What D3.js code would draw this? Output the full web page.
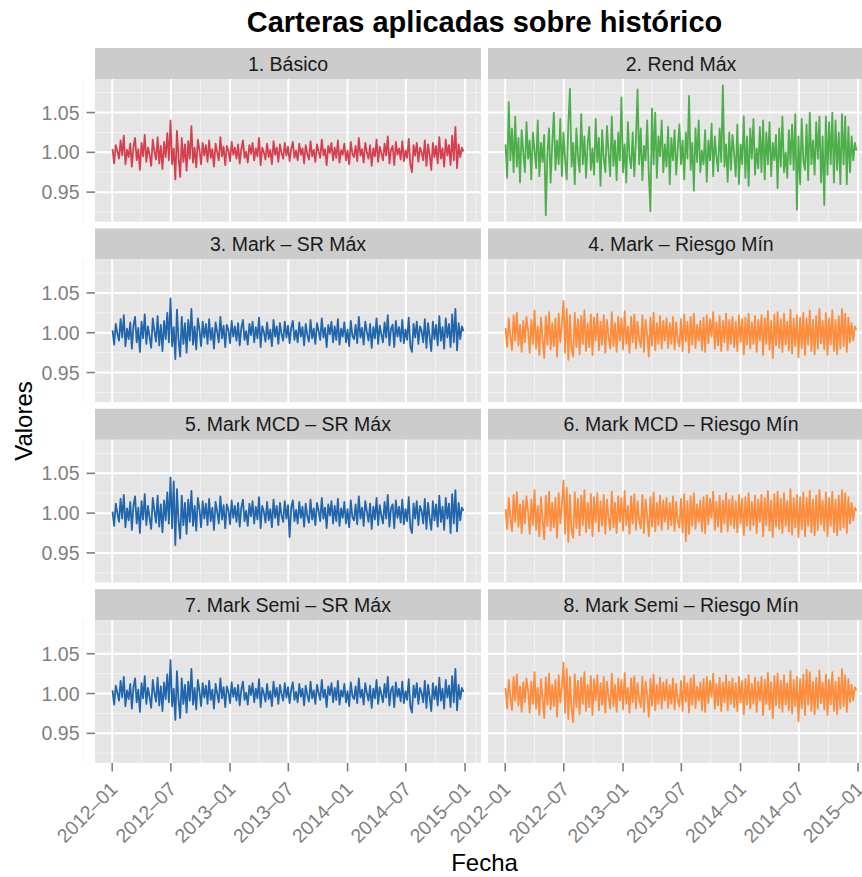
<!DOCTYPE html>
<html>
<head>
<meta charset="utf-8">
<script src="https://d3js.org/d3.v7.min.js"></script>
<style>
	body { margin: 0; background: #ffffff; }
	svg text { font-family: "Liberation Sans", Arial, Helvetica, sans-serif; }
</style>
</head>
<body>
<svg id="svg0" width="862" height="877"></svg>
<script>

// panel titles, in facet order (2 columns, 4 rows)
var panelNames = ["1. Básico", "2. Rend Máx", "3. Mark \u2013 SR Máx", "4. Mark \u2013 Riesgo Mín",
	"5. Mark MCD \u2013 SR Máx", "6. Mark MCD \u2013 Riesgo Mín",
	"7. Mark Semi \u2013 SR Máx", "8. Mark Semi \u2013 Riesgo Mín"];
var panelColors = ["#d6404e", "#4daf4a", "#2166ac", "#fd8d3c",
	"#2166ac", "#fd8d3c", "#2166ac", "#fd8d3c"];

// one observation every 5 days, 2012-01-02 to the end of 2014
var firstDate = new Date(2012, 0, 2);
var lastDate = new Date(2015, 0, 1);

var yTicks = [0.95, 1.00, 1.05];
var xTicks = [new Date(2012, 0, 1), new Date(2012, 6, 1), new Date(2013, 0, 1), new Date(2013, 6, 1),
	new Date(2014, 0, 1), new Date(2014, 6, 1), new Date(2015, 0, 1)];

// values, one row per month (6 points)
var basico = [
	1.004, 0.986, 1.009, 1.002, 0.992, 1.015,  0.996, 1.021, 0.985, 1.003, 0.994, 1.011,
	0.982, 1.007, 1.018, 0.990, 1.004, 0.978,  1.012, 0.995, 1.022, 0.988, 1.006, 0.997,
	0.983, 1.016, 1.001, 0.991, 1.019, 0.986,  1.008, 0.979, 1.013, 0.994, 1.024, 0.990,
	1.040, 0.985, 1.005, 0.966, 1.027, 0.993,  0.969, 1.018, 0.988, 1.010, 0.977, 1.014,
	0.992, 1.033, 0.987, 1.006, 0.981, 1.016,  1.003, 0.985, 1.012, 0.996, 1.009, 0.988,
	1.015, 0.993, 1.004, 0.982, 1.011, 1.000,  0.990, 1.019, 0.995, 1.007, 0.984, 1.008,
	1.002, 0.989, 1.013, 0.997, 1.006, 0.992,  1.010, 0.986, 1.004, 1.015, 0.993, 1.001,
	0.987, 1.009, 0.998, 1.012, 0.990, 1.005,  0.995, 1.018, 0.984, 1.006, 1.000, 0.991,
	1.011, 0.994, 1.003, 0.985, 1.014, 0.997,  1.006, 0.988, 1.010, 0.999, 0.992, 1.012,
	0.996, 1.007, 0.989, 1.004, 1.013, 0.993,  1.002, 0.990, 1.011, 0.997, 1.005, 0.986,
	1.009, 0.998, 0.991, 1.014, 0.995, 1.003,  0.988, 1.010, 1.001, 0.993, 1.016, 0.996,
	1.004, 0.984, 1.008, 0.999, 1.012, 0.990,  1.006, 0.993, 1.015, 0.987, 1.003, 0.997,
	1.011, 0.990, 1.002, 0.985, 1.013, 0.998,  0.994, 1.008, 0.989, 1.018, 0.996, 1.004,
	0.987, 1.012, 1.000, 0.992, 1.009, 0.983,  1.005, 0.995, 1.016, 0.988, 1.007, 0.999,
	0.990, 1.011, 0.996, 1.020, 0.986, 1.003,  1.008, 0.984, 1.013, 0.997, 1.005, 0.991,
	1.014, 0.989, 1.002, 0.993, 1.017, 0.985,  0.975, 1.009, 0.996, 1.012, 0.988, 1.006,
	1.000, 0.990, 1.015, 0.983, 1.010, 0.997,  0.978, 1.012, 0.994, 1.008, 0.986, 1.019,
	0.992, 1.005, 0.982, 1.016, 0.996, 1.009,  0.984, 1.021, 0.990, 1.032, 0.980, 1.010,
	0.994, 1.006, 1.001];

var rendMax = [
	1.010, 0.968, 1.063, 0.990, 1.030, 0.975,  1.045, 0.982, 1.018, 0.962, 1.028, 1.000,
	0.975, 1.038, 0.992, 1.015, 0.966, 1.025,  1.002, 0.980, 1.040, 0.970, 1.012, 0.988,
	1.022, 0.921, 0.998, 1.030, 0.962, 1.010,  1.050, 0.978, 1.015, 0.985, 1.042, 0.970,
	1.025, 0.990, 0.966, 1.035, 1.080, 0.982,  1.012, 0.960, 1.030, 0.995, 0.975, 1.048,
	0.985, 1.020, 0.968, 1.010, 1.032, 0.978,  1.005, 0.972, 1.042, 0.988, 1.018, 0.958,
	1.028, 0.992, 0.975, 1.033, 1.000, 0.970,  1.045, 0.983, 1.015, 0.965, 1.025, 0.990,
	1.069, 0.975, 1.010, 0.962, 1.038, 0.995,  0.980, 1.025, 0.970, 1.015, 1.079, 0.985,
	1.030, 0.965, 1.008, 0.990, 1.040, 0.972,  0.926, 1.055, 0.985, 1.050, 0.968, 1.020,
	0.995, 1.040, 0.975, 1.010, 0.982, 1.032,  0.960, 1.018, 0.990, 1.028, 0.972, 1.005,
	1.035, 0.985, 1.015, 0.966, 1.025, 0.992,  1.071, 0.978, 1.012, 0.952, 1.030, 0.988,
	1.040, 0.975, 1.002, 0.985, 1.028, 0.963,  1.015, 0.990, 1.036, 0.970, 1.020, 0.995,
	0.976, 1.030, 0.988, 1.084, 0.982, 1.010,  0.963, 1.025, 0.978, 1.022, 0.998, 0.970,
	1.035, 0.960, 1.010, 0.985, 1.045, 0.968,  1.020, 0.958, 1.030, 0.992, 1.042, 0.972,
	1.005, 0.980, 1.032, 0.975, 1.040, 0.966,  1.025, 0.985, 1.038, 0.970, 1.012, 0.990,
	1.022, 0.955, 1.030, 0.982, 1.045, 0.975,  1.000, 0.968, 1.028, 0.985, 1.035, 0.978,
	1.048, 0.928, 1.020, 0.960, 1.042, 0.990,  0.978, 1.035, 0.965, 1.050, 0.985, 1.015,
	0.972, 1.038, 0.992, 1.045, 0.962, 1.020,  0.934, 1.045, 0.972, 1.038, 0.985, 1.050,
	0.962, 1.040, 0.978, 1.025, 0.960, 1.048,  0.985, 1.045, 0.960, 1.032, 0.975, 1.020,
	0.990, 1.012, 1.002];

var markSR = [
	1.003, 0.985, 1.011, 0.999, 0.990, 1.017,  0.994, 1.022, 0.983, 1.005, 0.992, 1.013,
	0.980, 1.009, 1.020, 0.988, 1.006, 0.976,  1.014, 0.993, 1.023, 0.986, 1.008, 0.995,
	0.981, 1.018, 1.002, 0.989, 1.021, 0.984,  1.010, 0.977, 1.015, 0.992, 1.025, 0.988,
	1.043, 0.983, 1.007, 0.967, 1.029, 0.991,  0.970, 1.020, 0.986, 1.012, 0.975, 1.016,
	0.990, 1.030, 0.985, 1.008, 0.979, 1.018,  1.004, 0.983, 1.014, 0.994, 1.011, 0.986,
	1.017, 0.991, 1.006, 0.980, 1.013, 1.001,  0.988, 1.020, 0.993, 1.009, 0.982, 1.010,
	1.003, 0.987, 1.015, 0.995, 1.008, 0.990,  1.012, 0.984, 1.006, 1.016, 0.991, 1.002,
	0.985, 1.011, 0.997, 1.014, 0.988, 1.007,  0.993, 1.019, 0.982, 1.008, 1.001, 0.989,
	1.013, 0.992, 1.004, 0.983, 1.016, 0.995,  1.008, 0.986, 1.012, 0.998, 0.990, 1.014,
	0.994, 1.009, 0.987, 1.006, 1.015, 0.991,  1.003, 0.988, 1.013, 0.995, 1.007, 0.984,
	1.011, 0.997, 0.989, 1.016, 0.993, 1.005,  0.986, 1.012, 1.002, 0.991, 1.018, 0.994,
	1.006, 0.982, 1.010, 0.998, 1.014, 0.988,  1.008, 0.991, 1.017, 0.985, 1.005, 0.995,
	1.013, 0.988, 1.004, 0.983, 1.015, 0.996,  0.992, 1.010, 0.987, 1.020, 0.994, 1.006,
	0.985, 1.014, 1.001, 0.990, 1.011, 0.981,  1.007, 0.993, 1.018, 0.986, 1.009, 0.998,
	0.988, 1.013, 0.994, 1.022, 0.984, 1.005,  1.010, 0.982, 1.015, 0.995, 1.007, 0.989,
	1.016, 0.987, 1.004, 0.991, 1.019, 0.983,  0.976, 1.011, 0.994, 1.014, 0.986, 1.008,
	1.002, 0.988, 1.017, 0.981, 1.012, 0.995,  0.977, 1.014, 0.992, 1.010, 0.984, 1.021,
	0.990, 1.007, 0.980, 1.018, 0.994, 1.011,  0.982, 1.023, 0.988, 1.030, 0.978, 1.012,
	0.992, 1.008, 1.002];

var markRiesgo = [
	1.006, 0.982, 1.018, 0.995, 0.978, 1.022,  0.990, 1.025, 0.984, 1.010, 0.976, 1.015,
	0.988, 1.020, 1.003, 0.975, 1.016, 0.986,  1.028, 0.980, 1.008, 0.972, 1.019, 0.993,
	0.968, 1.021, 0.985, 1.026, 0.979, 1.012,  0.983, 1.018, 0.970, 1.024, 0.988, 1.010,
	1.040, 0.975, 1.030, 0.966, 1.022, 0.980,  0.970, 1.025, 0.982, 1.017, 0.973, 1.021,
	0.986, 1.028, 0.977, 1.012, 0.982, 1.023,  0.972, 1.019, 0.990, 1.024, 0.978, 1.014,
	0.985, 1.022, 0.975, 1.016, 0.995, 0.980,  1.026, 0.983, 1.012, 0.976, 1.020, 0.990,
	1.018, 0.979, 1.027, 0.986, 1.008, 0.975,  1.020, 0.988, 1.023, 0.980, 1.014, 0.992,
	0.982, 1.022, 0.976, 1.016, 0.998, 0.970,  1.019, 0.984, 1.025, 0.978, 1.012, 0.986,
	1.021, 0.980, 1.015, 0.990, 1.018, 0.981,  1.012, 0.986, 1.020, 0.979, 1.013, 0.991,
	0.983, 1.017, 0.977, 1.023, 0.989, 1.014,  0.975, 1.020, 0.985, 1.024, 0.981, 1.010,
	0.990, 1.015, 0.978, 1.019, 0.976, 1.022,  0.987, 1.017, 0.995, 1.026, 0.980, 1.013,
	0.984, 1.021, 0.977, 1.015, 0.988, 1.024,  0.978, 1.016, 0.986, 1.020, 0.982, 1.014,
	0.977, 1.022, 0.988, 1.017, 0.973, 1.019,  0.985, 1.024, 0.980, 1.013, 0.986, 1.021,
	0.976, 1.016, 0.990, 1.022, 0.972, 1.018,  0.986, 1.027, 0.979, 1.015, 0.968, 1.023,
	0.984, 1.026, 0.981, 1.017, 0.976, 1.024,  0.985, 1.014, 0.978, 1.029, 0.974, 1.018,
	0.983, 1.022, 0.969, 1.019, 0.981, 1.025,  0.972, 1.018, 0.985, 1.028, 0.977, 1.016,
	0.973, 1.021, 0.980, 1.030, 0.987, 1.015,  0.979, 1.025, 0.972, 1.018, 0.985, 1.028,
	0.977, 1.016, 0.973, 1.021, 0.980, 1.030,  0.983, 1.024, 0.976, 1.019, 0.988, 1.012,
	0.990, 1.008, 1.004];

var mcdSR = [
	1.002, 0.984, 1.012, 1.000, 0.989, 1.018,  0.993, 1.023, 0.982, 1.006, 0.991, 1.014,
	0.979, 1.010, 1.021, 0.987, 1.007, 0.975,  1.015, 0.992, 1.024, 0.985, 1.009, 0.994,
	0.980, 1.019, 1.003, 0.988, 1.022, 0.983,  1.011, 0.976, 1.016, 0.991, 1.026, 0.987,
	1.045, 0.981, 1.040, 0.960, 1.030, 0.990,  0.968, 1.022, 0.985, 1.013, 0.974, 1.017,
	0.989, 1.028, 0.984, 1.009, 0.978, 1.019,  1.005, 0.982, 1.015, 0.993, 1.012, 0.985,
	1.018, 0.990, 1.007, 0.979, 1.014, 1.002,  0.987, 1.021, 0.992, 1.010, 0.981, 1.011,
	1.004, 0.986, 1.016, 0.994, 1.009, 0.989,  1.013, 0.983, 1.007, 1.017, 0.990, 1.003,
	0.984, 1.012, 0.996, 1.015, 0.987, 1.008,  0.992, 1.020, 0.981, 1.009, 1.002, 0.988,
	1.014, 0.991, 1.005, 0.982, 1.017, 0.994,  1.009, 0.985, 1.013, 0.997, 0.989, 1.015,
	0.993, 1.010, 0.970, 1.007, 1.016, 0.990,  1.004, 0.987, 1.014, 0.994, 1.008, 0.983,
	1.012, 0.996, 0.988, 1.017, 0.992, 1.006,  0.985, 1.013, 1.003, 0.990, 1.019, 0.993,
	1.007, 0.981, 1.011, 0.997, 1.015, 0.987,  1.009, 0.990, 1.018, 0.984, 1.006, 0.994,
	1.014, 0.987, 1.005, 0.982, 1.016, 0.995,  0.991, 1.011, 0.986, 1.021, 0.993, 1.007,
	0.984, 1.015, 1.002, 0.989, 1.012, 0.980,  1.008, 0.992, 1.019, 0.985, 1.010, 0.997,
	0.987, 1.014, 0.993, 1.023, 0.983, 1.006,  1.011, 0.981, 1.016, 0.994, 1.008, 0.988,
	1.017, 0.986, 1.005, 0.990, 1.020, 0.982,  0.975, 1.012, 0.993, 1.015, 0.985, 1.009,
	1.003, 0.987, 1.018, 0.980, 1.013, 0.994,  0.979, 1.015, 0.991, 1.011, 0.983, 1.022,
	0.989, 1.008, 0.979, 1.019, 0.993, 1.012,  0.975, 1.024, 0.987, 1.029, 0.977, 1.013,
	0.991, 1.007, 1.003];

var mcdRiesgo = [
	1.005, 0.980, 1.019, 0.994, 0.977, 1.023,  0.989, 1.026, 0.983, 1.011, 0.975, 1.016,
	0.987, 1.021, 1.002, 0.974, 1.017, 0.985,  1.029, 0.979, 1.009, 0.971, 1.020, 0.992,
	0.967, 1.022, 0.984, 1.027, 0.978, 1.013,  0.982, 1.019, 0.969, 1.025, 0.987, 1.011,
	1.041, 0.974, 1.032, 0.964, 1.023, 0.979,  0.969, 1.026, 0.981, 1.018, 0.972, 1.022,
	0.985, 1.029, 0.976, 1.013, 0.981, 1.024,  0.971, 1.020, 0.989, 1.025, 0.977, 1.015,
	0.984, 1.023, 0.974, 1.017, 0.994, 0.979,  1.027, 0.982, 1.013, 0.975, 1.021, 0.989,
	1.019, 0.978, 1.028, 0.985, 1.009, 0.974,  1.021, 0.987, 1.024, 0.979, 1.015, 0.991,
	0.981, 1.023, 0.975, 1.017, 0.997, 0.971,  1.020, 0.983, 1.026, 0.977, 1.013, 0.985,
	1.022, 0.979, 1.016, 0.989, 1.019, 0.980,  1.013, 0.985, 1.021, 0.978, 1.014, 0.990,
	0.982, 1.018, 0.976, 1.024, 0.965, 1.015,  0.974, 1.021, 0.984, 1.025, 0.980, 1.011,
	0.989, 1.016, 0.977, 1.020, 0.975, 1.023,  0.986, 1.018, 0.994, 1.027, 0.979, 1.014,
	0.983, 1.022, 0.976, 1.016, 0.987, 1.025,  0.977, 1.017, 0.985, 1.021, 0.981, 1.015,
	0.976, 1.023, 0.987, 1.018, 0.972, 1.020,  0.984, 1.025, 0.979, 1.014, 0.985, 1.022,
	0.975, 1.017, 0.989, 1.023, 0.971, 1.019,  0.985, 1.028, 0.978, 1.016, 0.970, 1.024,
	0.983, 1.027, 0.980, 1.018, 0.975, 1.025,  0.984, 1.015, 0.977, 1.030, 0.973, 1.019,
	0.982, 1.023, 0.970, 1.020, 0.980, 1.026,  0.971, 1.019, 0.984, 1.028, 0.976, 1.017,
	0.972, 1.022, 0.979, 1.029, 0.986, 1.016,  0.978, 1.026, 0.971, 1.019, 0.984, 1.027,
	0.976, 1.017, 0.972, 1.022, 0.979, 1.029,  0.982, 1.025, 0.975, 1.020, 0.987, 1.013,
	0.991, 1.007, 1.003];

var semiSR = [
	1.004, 0.986, 1.010, 1.001, 0.991, 1.016,  0.995, 1.021, 0.984, 1.004, 0.993, 1.012,
	0.981, 1.008, 1.019, 0.989, 1.005, 0.977,  1.013, 0.994, 1.022, 0.987, 1.007, 0.996,
	0.982, 1.017, 1.001, 0.990, 1.020, 0.985,  1.009, 0.978, 1.014, 0.993, 1.024, 0.989,
	1.042, 0.984, 1.006, 0.967, 1.028, 0.992,  0.969, 1.019, 0.987, 1.011, 0.976, 1.015,
	0.991, 1.031, 0.986, 1.007, 0.980, 1.017,  1.003, 0.984, 1.013, 0.995, 1.010, 0.987,
	1.016, 0.992, 1.005, 0.981, 1.012, 1.000,  0.989, 1.019, 0.994, 1.008, 0.983, 1.009,
	1.002, 0.988, 1.014, 0.996, 1.007, 0.991,  1.011, 0.985, 1.005, 1.015, 0.992, 1.001,
	0.986, 1.010, 0.998, 1.013, 0.989, 1.006,  0.994, 1.018, 0.983, 1.007, 1.000, 0.990,
	1.012, 0.993, 1.003, 0.984, 1.015, 0.996,  1.007, 0.987, 1.011, 0.999, 0.991, 1.013,
	0.995, 1.008, 0.988, 1.005, 1.014, 0.992,  1.002, 0.989, 1.012, 0.996, 1.006, 0.985,
	1.010, 0.998, 0.990, 1.015, 0.994, 1.004,  0.987, 1.011, 1.001, 0.992, 1.017, 0.995,
	1.005, 0.983, 1.009, 0.998, 1.013, 0.989,  1.007, 0.992, 1.016, 0.986, 1.004, 0.996,
	1.012, 0.989, 1.003, 0.984, 1.014, 0.997,  0.993, 1.009, 0.988, 1.019, 0.995, 1.005,
	0.986, 1.013, 1.000, 0.991, 1.010, 0.982,  1.006, 0.994, 1.017, 0.987, 1.008, 0.999,
	0.989, 1.012, 0.995, 1.021, 0.985, 1.004,  1.009, 0.983, 1.014, 0.996, 1.006, 0.990,
	1.015, 0.988, 1.003, 0.992, 1.018, 0.984,  0.976, 1.010, 0.995, 1.013, 0.987, 1.007,
	1.001, 0.989, 1.016, 0.982, 1.011, 0.996,  0.978, 1.013, 0.993, 1.009, 0.985, 1.020,
	0.991, 1.006, 0.981, 1.017, 0.995, 1.010,  0.983, 1.022, 0.989, 1.031, 0.979, 1.011,
	0.993, 1.007, 1.002];

var semiRiesgo = [
	1.007, 0.981, 1.017, 0.996, 0.979, 1.021,  0.991, 1.024, 0.985, 1.009, 0.977, 1.014,
	0.989, 1.019, 1.004, 0.976, 1.015, 0.987,  1.027, 0.981, 1.007, 0.973, 1.018, 0.994,
	0.969, 1.020, 0.986, 1.025, 0.980, 1.011,  0.984, 1.017, 0.971, 1.023, 0.989, 1.009,
	1.039, 0.976, 1.031, 0.968, 1.021, 0.981,  0.964, 1.024, 0.983, 1.016, 0.974, 1.020,
	0.987, 1.027, 0.978, 1.011, 0.983, 1.022,  0.973, 1.018, 0.991, 1.023, 0.979, 1.013,
	0.986, 1.021, 0.976, 1.015, 0.996, 0.981,  1.025, 0.984, 1.011, 0.977, 1.019, 0.991,
	1.017, 0.980, 1.026, 0.987, 1.007, 0.976,  1.019, 0.989, 1.022, 0.981, 1.013, 0.993,
	0.983, 1.021, 0.977, 1.015, 0.999, 0.971,  1.018, 0.985, 1.024, 0.979, 1.011, 0.987,
	1.020, 0.981, 1.014, 0.991, 1.017, 0.982,  1.011, 0.987, 1.019, 0.980, 1.012, 0.992,
	0.984, 1.016, 0.978, 1.022, 0.990, 1.013,  0.976, 1.019, 0.986, 1.023, 0.982, 1.009,
	0.991, 1.014, 0.979, 1.018, 0.977, 1.021,  0.988, 1.016, 0.996, 1.025, 0.981, 1.012,
	0.985, 1.020, 0.978, 1.014, 0.989, 1.023,  0.979, 1.015, 0.987, 1.019, 0.983, 1.013,
	0.978, 1.021, 0.989, 1.016, 0.974, 1.018,  0.986, 1.023, 0.981, 1.012, 0.987, 1.020,
	0.977, 1.015, 0.991, 1.021, 0.973, 1.017,  0.987, 1.026, 0.980, 1.014, 0.969, 1.022,
	0.985, 1.025, 0.982, 1.016, 0.977, 1.023,  0.986, 1.013, 0.979, 1.028, 0.975, 1.017,
	0.984, 1.021, 0.965, 1.018, 0.982, 1.024,  0.973, 1.030, 0.986, 1.027, 0.978, 1.015,
	0.974, 1.020, 0.981, 1.029, 0.988, 1.014,  0.980, 1.024, 0.973, 1.017, 0.986, 1.027,
	0.978, 1.015, 0.974, 1.020, 0.981, 1.031,  0.984, 1.023, 0.977, 1.018, 0.989, 1.011,
	0.991, 1.008, 1.004];

var panelValues = [basico, rendMax, markSR, markRiesgo, mcdSR, mcdRiesgo, semiSR, semiRiesgo];

var panelLeft = [95, 488];
var panelWidth = 386;
var stripTop = 48, stripHeight = 31, rowPitch = 180.4, panelHeight = 142.7;
var tickLen = 8.5;

var svg = d3.select("#svg0");

var dates = d3.timeDay.range(firstDate, lastDate, 5);

// shared scales (facet_wrap with fixed scales), expanded 5% like ggplot
var allValues = d3.merge(panelValues);
var yExt = d3.extent(allValues);
var yPad = (yExt[1] - yExt[0]) * 0.05;
var xExt = d3.extent(dates);
var xPad = (xExt[1] - xExt[0]) * 0.05;

var y = d3.scaleLinear()
	.domain([yExt[0] - yPad, yExt[1] + yPad])
	.range([panelHeight, 0]);

var x = d3.scaleTime()
	.domain([new Date(+xExt[0] - xPad), new Date(+xExt[1] + xPad)])
	.range([0, panelWidth]);

// minor breaks sit half way between the major ones
var yMinor = [0.925, 0.975, 1.025, 1.075];
var xMinor = [];
for (var k = 0; k < xTicks.length; k++) {
	var prev = k == 0 ? new Date(+xTicks[0] - (xTicks[1] - xTicks[0])) : xTicks[k - 1];
	xMinor.push(new Date((+prev + +xTicks[k]) / 2));
}
xMinor.push(new Date(+xTicks[xTicks.length - 1] + (xTicks[1] - xTicks[0]) / 2));

var line = d3.line()
	.defined(function(d, i) { return i < dates.length; })
	.x(function(d, i) { return x(dates[i]); })
	.y(function(d) { return y(d); });

var fmtDate = function(d) { return d3.timeFormat("%Y")(d) + "\u2013" + d3.timeFormat("%m")(d); };

panelNames.forEach(function(name, p) {
	var col = p % 2, row = Math.floor(p / 2);
	var left = panelLeft[col];
	var top = stripTop + row * rowPitch;

	// strip
	svg.append("rect")
		.attr("x", left).attr("y", top)
		.attr("width", panelWidth).attr("height", stripHeight)
		.attr("fill", "#cccccc");
	svg.append("text")
		.attr("x", left + panelWidth / 2)
		.attr("y", top + stripHeight / 2)
		.attr("dy", "0.36em")
		.attr("text-anchor", "middle")
		.attr("font-size", "19.5px")
		.attr("fill", "#1a1a1a")
		.text(name);

	var g = svg.append("g")
		.attr("transform", "translate(" + left + "," + (top + stripHeight) + ")");

	g.append("rect")
		.attr("width", panelWidth).attr("height", panelHeight)
		.attr("fill", "#e5e5e5");

	// minor grid
	g.selectAll(".ymin").data(yMinor).enter().append("line")
		.attr("x1", 0).attr("x2", panelWidth)
		.attr("y1", function(d) { return y(d); }).attr("y2", function(d) { return y(d); })
		.attr("stroke", "#f2f2f2").attr("stroke-width", 1);
	g.selectAll(".xmin").data(xMinor).enter().append("line")
		.attr("y1", 0).attr("y2", panelHeight)
		.attr("x1", function(d) { return x(d); }).attr("x2", function(d) { return x(d); })
		.attr("stroke", "#f2f2f2").attr("stroke-width", 1);

	// major grid
	g.selectAll(".ymaj").data(yTicks).enter().append("line")
		.attr("x1", 0).attr("x2", panelWidth)
		.attr("y1", function(d) { return y(d); }).attr("y2", function(d) { return y(d); })
		.attr("stroke", "#ffffff").attr("stroke-width", 2);
	g.selectAll(".xmaj").data(xTicks).enter().append("line")
		.attr("y1", 0).attr("y2", panelHeight)
		.attr("x1", function(d) { return x(d); }).attr("x2", function(d) { return x(d); })
		.attr("stroke", "#ffffff").attr("stroke-width", 2);

	// the series
	g.append("path")
		.datum(panelValues[p])
		.attr("d", line)
		.attr("fill", "none")
		.attr("stroke", panelColors[p])
		.attr("stroke-width", 1.8)
		.attr("stroke-linejoin", "round");

	// y axis on the left column only
	if (col == 0) {
		var ya = g.append("g").attr("class", "yaxis");
		ya.selectAll("line").data(yTicks).enter().append("line")
			.attr("x1", -tickLen).attr("x2", 0)
			.attr("y1", function(d) { return y(d); }).attr("y2", function(d) { return y(d); })
			.attr("stroke", "#7f7f7f").attr("stroke-width", 1.6);
		ya.selectAll("text").data(yTicks).enter().append("text")
			.attr("x", -tickLen - 7)
			.attr("y", function(d) { return y(d); })
			.attr("dy", "0.36em")
			.attr("text-anchor", "end")
			.attr("font-size", "19.5px")
			.attr("fill", "#7f7f7f")
			.text(d3.format(".2f"));
	}

	// x axis on the bottom row only
	if (row == 3) {
		var xa = g.append("g").attr("class", "xaxis")
			.attr("transform", "translate(0," + panelHeight + ")");
		xa.selectAll("line").data(xTicks).enter().append("line")
			.attr("x1", function(d) { return x(d); }).attr("x2", function(d) { return x(d); })
			.attr("y1", 0).attr("y2", tickLen)
			.attr("stroke", "#7f7f7f").attr("stroke-width", 1.6);
		xa.selectAll("text").data(xTicks).enter().append("text")
			.attr("transform", function(d) {
				return "translate(" + (x(d) + 6.5) + "," + (tickLen + 19) + ") rotate(-45)";
			})
			.attr("text-anchor", "end")
			.attr("font-size", "19.5px")
			.attr("fill", "#7f7f7f")
			.text(fmtDate);
	}
});

// titles
svg.append("text")
	.attr("x", 484.5).attr("y", 31.5)
	.attr("text-anchor", "middle")
	.attr("font-size", "29px")
	.attr("font-weight", "bold")
	.attr("fill", "#000000")
	.text("Carteras aplicadas sobre histórico");

svg.append("text")
	.attr("x", 484.5).attr("y", 871)
	.attr("text-anchor", "middle")
	.attr("font-size", "24px")
	.attr("fill", "#000000")
	.text("Fecha");

svg.append("text")
	.attr("transform", "translate(31.5,421) rotate(-90)")
	.attr("text-anchor", "middle")
	.attr("font-size", "24px")
	.attr("fill", "#000000")
	.text("Valores");

</script>
</body>
</html>
